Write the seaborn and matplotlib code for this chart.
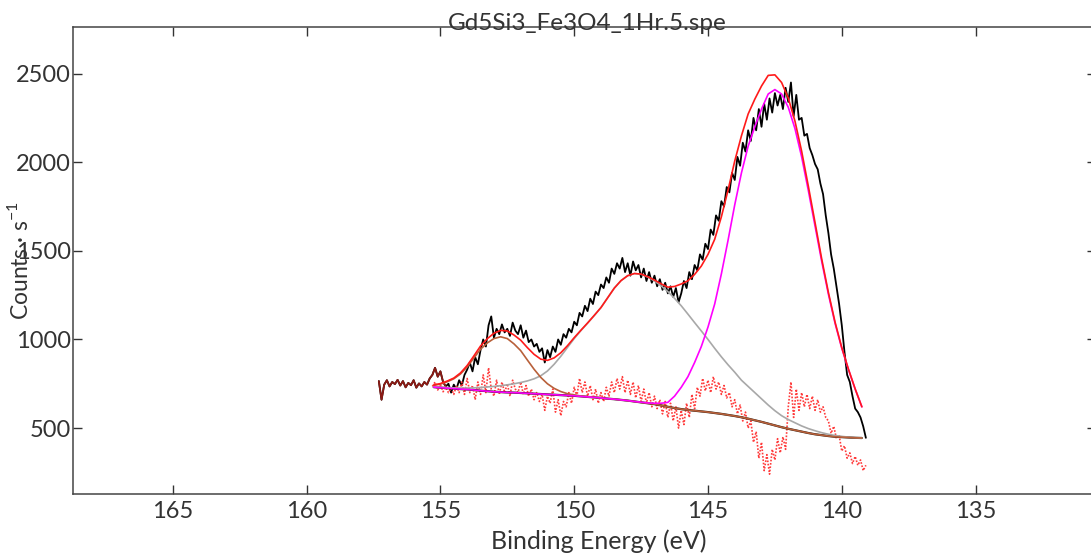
import numpy as np
import pandas as pd
import matplotlib
matplotlib.use("Agg")
import matplotlib.pyplot as plt
import seaborn as sns

# ---------------- data ----------------
title_text = "Gd5Si3_Fe3O4_1Hr.5.spe"
x_label = "Binding Energy (eV)"
y_label = r"Counts · s$^{\mathregular{-1}}$"
x_ticks = [165, 160, 155, 150, 145, 140, 135]
y_ticks = [500, 1000, 1500, 2000, 2500]

# raw spectrum, 157.3 -> 139.1 eV in 0.1 eV steps
data_start, data_step = 157.3, 0.1
data_counts = [
    765, 660, 745, 770, 735, 760, 748, 772, 740, 765,
    730, 755, 742, 770, 728, 752, 735, 760, 745, 780,
    800, 840, 790, 820, 760, 735, 750, 700, 745, 720,
    770, 740, 800, 830, 870, 820, 900, 860, 940, 1000,
    960, 1080, 1130, 1010, 1060, 1030, 1085, 1040, 1060, 1020,
    1095, 1050, 1030, 1080, 1010, 1050, 985, 1000, 960, 975,
    930, 950, 870, 940, 900, 960, 930, 1000, 970, 1030,
    1010, 1060, 1040, 1100, 1080, 1150, 1130, 1190, 1160, 1230,
    1200, 1270, 1250, 1310, 1290, 1350, 1320, 1400, 1370, 1430,
    1400, 1460, 1380, 1430, 1360, 1440, 1390, 1420, 1350, 1400,
    1330, 1380, 1320, 1360, 1300, 1340, 1280, 1320, 1260, 1300,
    1240, 1290, 1210, 1260, 1330, 1290, 1380, 1340, 1420, 1390,
    1480, 1450, 1540, 1510, 1620, 1590, 1700, 1670, 1780, 1750,
    1860, 1830, 1940, 1900, 2030, 1980, 2110, 2060, 2180, 2120,
    2250, 2180, 2300, 2200, 2330, 2240, 2360, 2280, 2390, 2320,
    2380, 2300, 2420, 2340, 2450, 2260, 2380, 2240, 2250, 2150,
    2160, 2080, 2040, 1990, 1960, 1880, 1820, 1700, 1600, 1480,
    1400, 1300, 1200, 1080, 930, 800, 760, 680, 610, 590,
    560, 510, 445,
]
n_outside = 26  # points left of the fit region (drawn dark red)

# residual (dotted red), 155.3 -> 139.1 eV in 0.1 eV steps
resid_start = 155.3
resid_counts = [
    735, 760, 715, 745, 705, 730, 700, 725, 690, 740,
    700, 760, 690, 780, 700, 740, 660, 760, 690, 800,
    700, 840, 720, 680, 770, 690, 760, 700, 750, 680,
    770, 720, 700, 760, 690, 740, 680, 720, 660, 700,
    650, 690, 600, 680, 640, 720, 590, 660, 570, 650,
    620, 700, 640, 730, 680, 780, 700, 760, 680, 740,
    660, 720, 640, 700, 650, 730, 680, 760, 700, 780,
    720, 790, 700, 770, 690, 760, 670, 740, 650, 720,
    640, 700, 620, 680, 610, 660, 580, 650, 560, 640,
    540, 620, 500, 600, 520, 640, 560, 690, 610, 730,
    680, 780, 710, 770, 700, 790, 720, 760, 690, 740,
    670, 700, 620, 660, 580, 630, 540, 590, 500, 540,
    420, 480, 330, 420, 260, 350, 240, 380, 320, 440,
    360, 450, 380, 620, 760, 560, 720, 600, 700, 620,
    690, 610, 680, 600, 660, 590, 620, 560, 540, 470,
    510, 440, 460, 370, 400, 330, 360, 300, 340, 290,
    320, 260, 290,
]

# fitted curves, 155.25 -> 139.25 eV in 0.25 eV steps
fit_start, fit_end = 155.25, 139.25
background = [
    731, 728, 725, 723, 720, 718, 715, 711, 708, 705,
    703, 701, 700, 698, 696, 694, 692, 690, 688, 686,
    684, 682, 679, 676, 673, 670, 666, 663, 659, 655,
    650, 645, 640, 635, 628, 620, 613, 607, 602, 598,
    594, 590, 585, 580, 574, 568, 561, 553, 544, 535,
    525, 515, 505, 496, 488, 480, 472, 465, 460, 455,
    451, 449, 447, 445, 444,
]
peak_brown = [
    741, 748, 761, 778, 805, 845, 895, 945, 980, 1005,
    1015, 1005, 975, 937, 884, 832, 786, 750, 724, 706,
    694, 687, 681, 677, 674, 670, 666, 663, 659, 655,
    650, 645, 640, 635, 628, 620, 613, 607, 602, 598,
    594, 590, 585, 580, 574, 568, 561, 553, 544, 535,
    525, 515, 505, 496, 488, 480, 472, 465, 460, 455,
    451, 449, 447, 445, 444,
]
peak_gray = [
    733, 731, 729, 727, 726, 726, 727, 729, 732, 735,
    739, 744, 750, 757, 766, 778, 795, 822, 860, 905,
    955, 1005, 1050, 1092, 1135, 1180, 1235, 1290, 1332, 1360,
    1372, 1368, 1352, 1330, 1302, 1270, 1232, 1190, 1143, 1095,
    1048, 1000, 950, 902, 857, 815, 770, 735, 700, 665,
    630, 598, 570, 548, 530, 512, 497, 485, 474, 465,
    458, 453, 449, 446, 444,
]
peak_magenta = [
    731, 728, 725, 723, 720, 718, 715, 711, 708, 705,
    703, 701, 700, 698, 696, 694, 692, 690, 688, 686,
    684, 682, 679, 676, 673, 670, 666, 663, 659, 655,
    650, 646, 642, 640, 640, 645, 680, 730, 790, 870,
    960, 1070, 1200, 1370, 1560, 1760, 1940, 2090, 2200, 2300,
    2385, 2410, 2385, 2310, 2190, 2030, 1840, 1640, 1440, 1255,
    1090, 950, 830, 720, 620,
]
envelope = [
    743, 751, 765, 782, 811, 853, 907, 963, 1004, 1035,
    1051, 1048, 1025, 996, 954, 916, 889, 882, 896, 925,
    965, 1010, 1052, 1093, 1136, 1180, 1235, 1290, 1332, 1360,
    1372, 1369, 1354, 1335, 1314, 1295, 1299, 1313, 1331, 1367,
    1414, 1480, 1565, 1692, 1843, 2007, 2149, 2272, 2356, 2430,
    2490, 2493, 2450, 2362, 2232, 2062, 1865, 1660, 1454, 1265,
    1097, 954, 832, 721, 620,
]

# ---------------- build frames ----------------
data_be = data_start - data_step * np.arange(len(data_counts))
resid_be = resid_start - data_step * np.arange(len(resid_counts))
fit_be = np.linspace(fit_start, fit_end, len(background))

df_data = pd.DataFrame({"be": data_be, "counts": data_counts})
df_out = df_data.iloc[:n_outside]
df_res = pd.DataFrame({"be": resid_be, "counts": resid_counts})
df_fit = pd.DataFrame({"be": fit_be, "bg": background, "brown": peak_brown,
                       "gray": peak_gray, "magenta": peak_magenta, "env": envelope})

# ---------------- style ----------------
sns.set_style("ticks")
plt.rcParams["font.family"] = ["Lato", "DejaVu Sans"]
plt.rcParams["mathtext.fontset"] = "custom"
plt.rcParams["mathtext.rm"] = "Lato"

W, H = 1091, 557
fig = plt.figure(figsize=(W / 100, H / 100), dpi=100)
ax = fig.add_axes([73 / W, (H - 494) / H, (1096 - 73) / W, (494 - 27) / H])

kw = dict(ax=ax, estimator=None, sort=False, legend=False)
sns.lineplot(data=df_data, x="be", y="counts", color="black", linewidth=1.3, zorder=2, **kw)
sns.lineplot(data=df_out, x="be", y="counts", color="#8c1a14", linewidth=1.3, zorder=3, **kw)
sns.lineplot(data=df_res, x="be", y="counts", color="#ff3b3b", linewidth=1.2,
             linestyle=(0, (1, 1)), zorder=3, **kw)
sns.lineplot(data=df_fit, x="be", y="bg", color="#2a1a10", linewidth=1.6, zorder=4, **kw)
sns.lineplot(data=df_fit, x="be", y="gray", color="#a8a8a8", linewidth=1.2, zorder=4, **kw)
sns.lineplot(data=df_fit, x="be", y="brown", color="#b8603a", linewidth=1.2, zorder=5, **kw)
sns.lineplot(data=df_fit, x="be", y="magenta", color="#ff00ff", linewidth=1.2, zorder=5, **kw)
sns.lineplot(data=df_fit, x="be", y="env", color="#ff1a1a", linewidth=1.2, zorder=6, **kw)

ax.set_xlim(168.73, 130.5)
ax.set_ylim(128, 2763)
ax.set_xticks(x_ticks)
ax.set_yticks(y_ticks)
ax.tick_params(direction="in", length=6.5, width=1.0, top=True, right=True,
               labelsize=17, labelcolor="#333333", color="#333333")
ax.tick_params(axis="y", pad=1.5)
ax.tick_params(axis="x", pad=5)
for s in ax.spines.values():
    s.set_color("#444444")
    s.set_linewidth(1.1)

ax.set_xlabel(x_label, fontsize=18, color="#333333")
ax.xaxis.set_label_coords(0.514, -0.076)
ax.set_ylabel(y_label, fontsize=16.5, color="#333333", va="center")
ax.yaxis.set_label_coords(-0.052, 0.5)

ax.text(0.503, 1 - 3 / 467, title_text, transform=ax.transAxes, ha="center",
        va="baseline", fontsize=17.5, color="#333333", zorder=10)

fig.savefig("out.png", dpi=100)
